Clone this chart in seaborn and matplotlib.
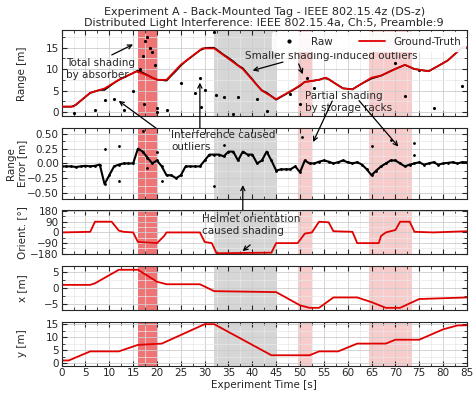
import numpy as np
import pandas as pd
import matplotlib
matplotlib.use("Agg")
import matplotlib.pyplot as plt
from matplotlib.ticker import MultipleLocator, AutoMinorLocator
import seaborn as sns

sns.set_style("ticks")
plt.rcParams['font.family'] = ['DejaVu Sans']
plt.rcParams['font.size'] = 7.5

# ground-truth waypoints (time [s], value)
range_t = [0, 2.5, 6, 9, 12, 15.8, 18, 20, 22, 25, 29.5, 32, 38, 42, 45, 49, 51, 54, 55.5, 59, 61, 65, 67, 70, 72, 74, 77, 81, 84, 85]
range_v = [1.3, 1.3, 4.5, 5.5, 7.5, 9.5, 8.5, 7.5, 7.5, 11, 14.8, 14.8, 10, 5, 3, 5.5, 7, 7.5, 8, 5.5, 5.3, 8, 8.5, 10, 11, 10, 9.5, 12, 15, 15]

orient_t = [0, 6, 7, 10.5, 12, 13, 15, 16, 20, 21.5, 22, 29, 30, 31.5, 32.5, 44, 45, 49.5, 51, 52.5, 54, 56, 57, 61, 62, 66.5, 67, 68, 70, 71, 73, 74, 78, 85]
orient_v = [0, 5, 90, 90, 15, 5, 0, -80, -90, -30, 0, 0, -80, -90, -175, -170, -90, -90, -10, 0, 90, 85, 10, 5, -90, -90, -30, 0, 20, 90, 90, 5, 0, 10]

x_t = [0, 6, 7, 12, 16, 20, 22, 29, 32, 45, 50, 52, 54, 57, 62, 65, 68, 71, 75, 85]
x_v = [1, 1, 1.5, 5.8, 5.8, 2, 1.2, 1.2, -1, -1.3, -5.5, -6.3, -6.3, -3, -3, -4.5, -6.3, -6.3, -3.5, -3]

y_t = [0, 1.5, 6, 12, 16, 21, 24, 30, 32, 44, 52, 54, 58, 62, 68, 70, 75, 80, 83, 85]
y_v = [1, 1, 4.5, 4.5, 7, 7.5, 10, 15, 15, 3, 3, 4.5, 4.5, 7.5, 7.5, 9, 9, 13, 14.5, 14.6]

# raw range error, one value per second (0..85)
err_t = list(range(86))
err_v = [-0.05, -0.05, -0.05, -0.06, -0.05, -0.04, -0.05, -0.04, -0.02, -0.35, -0.2, -0.05, -0.02, 0.0, 0.0, 0.0,
         0.25, 0.2, 0.1, 0.0, 0.05, -0.05, -0.2, -0.2, -0.25, -0.2, -0.05, -0.05, -0.05, -0.05,
         0.05, 0.15, 0.15, 0.15, 0.12, 0.2, 0.2, 0.05, 0.2, 0.15, 0.15, 0.0, 0.05, 0.2, 0.05,
         -0.12, -0.1, -0.1, -0.1, -0.05, -0.15, 0.05, 0.0, 0.0, 0.03, 0.05, 0.03, 0.0, 0.02, 0.05,
         0.02, 0.0, 0.02, -0.02, -0.1, -0.2, -0.12, -0.05, 0.0, 0.05, 0.05, 0.0, -0.05,
         -0.02, 0.0, 0.02, -0.02, 0.0, 0.02, -0.02, 0.0, 0.01, 0.02, 0.0, 0.02, 0.02]
err_out_t = [9, 12, 12, 17, 18, 20, 21, 32, 34, 50.5, 65, 69, 74, 74]
err_out_v = [0.25, 0.3, -0.3, 0.55, -0.08, 0.2, -0.3, -0.38, 0.32, 0.45, 0.3, 0.4, 0.35, 0.15]

range_out_t = [2.5, 7, 9, 11, 13, 15, 16, 16.5, 17, 17.5, 18, 18.5, 19, 19.5, 17.3, 20, 20.1, 22, 25, 28, 29,
               29.2, 30, 32, 32.3, 34, 36, 37, 41, 43, 48, 50, 51.5, 53, 70, 72, 75, 78, 84]
range_out_v = [-0.3, 0.6, 2.8, 3.0, 0.5, 5, 9.5, 10, 13, 16.5, 17.5, 15, 14, 11, 2, 1, 0, 0.5, 6.8, 4.5, 8,
               1.2, 5.2, 18.5, 4, 3.5, -0.5, 3.5, 3, 0.2, 4.3, 2, 8, 5.7, 11.5, 3.7, 9.8, 1, 6]

spans = [(16, 20, '#e8393a', 0.7), (32, 45, '#bbbbbb', 0.6), (49.5, 52.5, '#f08080', 0.4), (64.5, 73.5, '#f08080', 0.4)]

gt = pd.DataFrame({'t': range_t, 'r': range_v})
raw = pd.DataFrame({'t': err_t, 'e': err_v})
raw['r'] = np.interp(raw['t'], range_t, range_v) + raw['e']

fig, axes = plt.subplots(5, 1, figsize=(4.74, 4.04), dpi=100, sharex=True,
                         gridspec_kw={'height_ratios': [90, 74, 46, 46, 46]})
fig.subplots_adjust(left=0.13, right=0.985, top=0.925, bottom=0.095, hspace=0.2)
ax0, ax1, ax2, ax3, ax4 = axes

for ax in axes:
    for a, b, c, al in spans:
        ax.axvspan(a, b, color=c, alpha=al, lw=0, zorder=0)
    ax.xaxis.set_minor_locator(MultipleLocator(2.5))
    ax.yaxis.set_minor_locator(AutoMinorLocator(2))
    ax.grid(True, which='major', color='#cccccc', lw=0.6)
    ax.grid(True, which='minor', color='#e8e8e8', lw=0.5)
    ax.tick_params(which='both', direction='in', top=True, right=True, labelsize=7.5, pad=2)
    ax.set_xlim(0, 85)

# Range panel
ax0.plot(raw['t'], raw['r'], color='black', lw=1.2, zorder=2)
ax0.plot(range_out_t, range_out_v, '.', color='black', ms=2.5, zorder=2)
ax0.plot([], [], '.', color='black', ms=4, label='Raw')
sns.lineplot(data=gt, x='t', y='r', ax=ax0, color='#e00000', lw=1.3, label='Ground-Truth', zorder=3)
ax0.set_ylim(-1, 19)
ax0.set_yticks([0, 5, 10, 15])
ax0.set_ylabel('Range [m]')
ax0.legend(loc='upper right', ncol=2, fontsize=7.5, framealpha=0.9, borderaxespad=0.2, handlelength=2.5,
           columnspacing=2.5, edgecolor='white')
ax0.set_title('Experiment A - Back-Mounted Tag - IEEE 802.15.4z (DS-z)\n'
              'Distributed Light Interference: IEEE 802.15.4a, Ch:5, Preamble:9', fontsize=8, pad=3)

# Error panel
ax1.plot(raw['t'], raw['e'], color='black', lw=1.5, marker='.', ms=2)
ax1.plot(err_out_t, err_out_v, '.', color='black', ms=2)
ax1.set_ylim(-0.6, 0.6)
ax1.set_yticks([-0.5, -0.25, 0, 0.25, 0.5])
ax1.set_ylabel('Range\nError [m]')

# Orientation
sns.lineplot(x=orient_t, y=orient_v, ax=ax2, color='#e00000', lw=1.3)
ax2.set_ylim(-185, 185)
ax2.set_yticks([-180, -90, 0, 90, 180])
ax2.set_ylabel('Orient. [°]')

sns.lineplot(x=x_t, y=x_v, ax=ax3, color='#e00000', lw=1.3)
ax3.set_ylim(-7, 7)
ax3.set_yticks([-5, 0, 5])
ax3.set_ylabel('x [m]')

sns.lineplot(x=y_t, y=y_v, ax=ax4, color='#e00000', lw=1.3)
ax4.set_ylim(-1, 16)
ax4.set_yticks([0, 5, 10, 15])
ax4.set_ylabel('y [m]')
ax4.set_xticks(range(0, 86, 5))
ax4.set_xlabel('Experiment Time [s]', labelpad=1)

for ax in axes:
    ax.yaxis.set_label_coords(-0.085, 0.5)

fs = 7.5
arr = dict(arrowstyle='->', color='black', lw=0.9)
ax0.text(1, 10, 'Total shading\nby absorber', va='center', ha='left', fontsize=fs)
ax0.annotate('', xy=(15.5, 16), xytext=(10, 13), arrowprops=arr)
ax0.text(38.5, 13, 'Smaller shading-induced outliers', fontsize=fs, va='center')
ax0.annotate('', xy=(39.5, 9.5), xytext=(47, 11.8), arrowprops=arr)
ax0.annotate('', xy=(50.8, 8.2), xytext=(49.5, 11.8), arrowprops=arr)
ax0.text(51, 2.3, 'Partial shading\nby storage racks', fontsize=fs, va='center')
ax1.annotate('', xy=(52.5, 0.32), xytext=(57, 1.1), textcoords=ax1.transData, arrowprops=arr, annotation_clip=False)
ax1.annotate('', xy=(71, 0.25), xytext=(62, 1.1), textcoords=ax1.transData, arrowprops=arr, annotation_clip=False)
ax1.text(23, 0.38, 'Interference caused\noutliers', fontsize=fs, va='center')
ax0.annotate('', xy=(11.5, 3), xytext=(35, -0.3), textcoords=ax1.transData, arrowprops=arr, annotation_clip=False)
ax0.annotate('', xy=(29, 7.5), xytext=(29, 0.55), textcoords=ax1.transData, arrowprops=arr, annotation_clip=False)
ax2.text(29.5, 60, 'Helmet orientation\ncaused shading', fontsize=fs, va='center')
ax1.annotate('', xy=(38, -0.32), xytext=(38, 150), textcoords=ax2.transData, arrowprops=arr, annotation_clip=False)
ax2.annotate('', xy=(37.5, -172), xytext=(40, -90), arrowprops=arr)

fig.savefig('out.png', dpi=100)
